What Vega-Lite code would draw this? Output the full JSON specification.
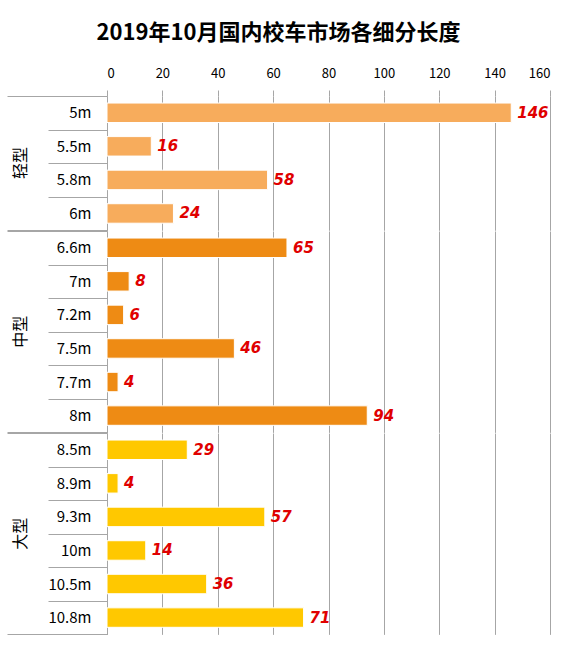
{
  "$schema": "https://vega.github.io/schema/vega-lite/v6.json",
  "title": {"text": "2019年10月国内校车市场各细分长度", "fontSize": 22, "font": "Noto Sans CJK SC", "fontWeight": "bold", "color": "#000000", "offset": 22, "anchor": "middle"},
  "background": "white",
  "padding": {"left": 6, "top": 22, "right": 20, "bottom": 10},
  "bounds": "flush",
  "data": {
    "values": [
      {"group": "轻型", "length": "5m", "value": 146},
      {"group": "轻型", "length": "5.5m", "value": 16},
      {"group": "轻型", "length": "5.8m", "value": 58},
      {"group": "轻型", "length": "6m", "value": 24},
      {"group": "中型", "length": "6.6m", "value": 65},
      {"group": "中型", "length": "7m", "value": 8},
      {"group": "中型", "length": "7.2m", "value": 6},
      {"group": "中型", "length": "7.5m", "value": 46},
      {"group": "中型", "length": "7.7m", "value": 4},
      {"group": "中型", "length": "8m", "value": 94},
      {"group": "大型", "length": "8.5m", "value": 29},
      {"group": "大型", "length": "8.9m", "value": 4},
      {"group": "大型", "length": "9.3m", "value": 57},
      {"group": "大型", "length": "10m", "value": 14},
      {"group": "大型", "length": "10.5m", "value": 36},
      {"group": "大型", "length": "10.8m", "value": 71}
    ]
  },
  "facet": {
    "row": {
      "field": "group",
      "type": "nominal",
      "sort": ["轻型", "中型", "大型"],
      "title": null,
      "header": {"labelAngle": -90, "labelFontSize": 16, "labelFont": "Noto Sans CJK SC", "labelColor": "#000000", "labelPadding": 70}
    }
  },
  "spacing": 0,
  "resolve": {"scale": {"y": "independent"}},
  "spec": {
    "width": 443,
    "height": {"step": 33.56},
    "encoding": {
      "y": {
        "field": "length",
        "type": "nominal",
        "sort": null,
        "title": null,
        "scale": {"paddingInner": 0, "paddingOuter": 0},
        "axis": {
          "tickBand": "extent",
          "tickColor": "#a6a6a6",
          "tickSize": {"condition": {"test": "datum.index == 1 || datum.index == -1", "value": 100}, "value": 59},
          "domainColor": "#a6a6a6",
          "labelPadding": {"condition": {"test": "datum.index == 1", "value": -84}, "value": -43},
          "labelFontSize": 15,
          "labelColor": "#000000",
          "labelFont": "Noto Sans CJK SC"
        }
      },
      "x": {
        "field": "value",
        "type": "quantitative",
        "scale": {"domain": [0, 160]},
        "axis": {
          "orient": "top",
          "values": [0, 20, 40, 60, 80, 100, 120, 140, 160],
          "title": null,
          "domain": false,
          "grid": true,
          "gridColor": "#a6a6a6",
          "tickColor": "#a6a6a6",
          "tickSize": 6,
          "labelFontSize": 13,
          "labelColor": "#000000",
          "labelFont": "Noto Sans CJK SC",
          "labelPadding": 10
        }
      }
    },
    "layer": [
      {
        "mark": {"type": "bar", "height": {"band": 0.58}, "stroke": "#ffffff", "strokeWidth": 1},
        "encoding": {
          "color": {
            "field": "group",
            "type": "nominal",
            "scale": {"domain": ["轻型", "中型", "大型"], "range": ["#F7AC5C", "#EE8B14", "#FFC800"]},
            "legend": null
          }
        }
      },
      {
        "mark": {"type": "text", "align": "left", "dx": 6, "fontStyle": "italic", "fontWeight": "bold", "color": "#E00000", "fontSize": 15, "font": "DejaVu Sans"},
        "encoding": {"text": {"field": "value", "type": "quantitative"}}
      }
    ]
  },
  "config": {"view": {"stroke": null}}
}
